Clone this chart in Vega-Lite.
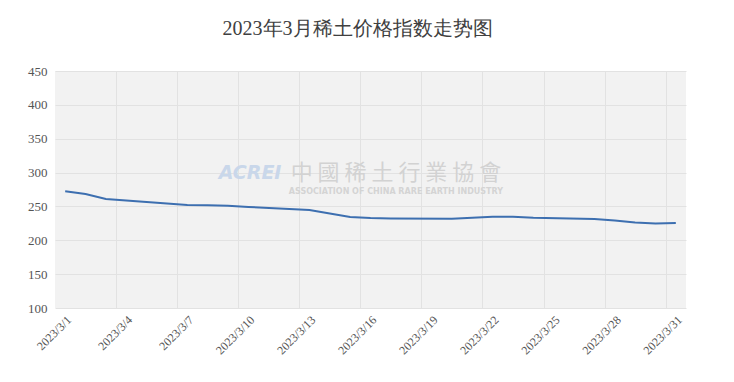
{
  "$schema": "https://vega.github.io/schema/vega-lite/v6.json",
  "autosize": "none",
  "width": 631,
  "height": 237,
  "padding": {"left": 55, "top": 71, "right": 48, "bottom": 74},
  "background": "white",
  "title": {
    "text": "2023年3月稀土价格指数走势图",
    "font": "Liberation Serif",
    "fontSize": 20,
    "fontWeight": "normal",
    "color": "#404040",
    "anchor": "middle",
    "offset": 26,
    "dx": -13
  },
  "config": {
    "view": {"fill": "#f2f2f2", "stroke": null},
    "axis": {"labelFont": "Liberation Serif", "labelColor": "#555555"}
  },
  "resolve": {"axis": {"x": "independent"}},
  "layer": [
    {
      "data": {"values": [{"date": "2023-03-17T06:00:00", "value": 299.4, "label": "中 國 稀 土 行 業 協 會"}]},
      "mark": {"type": "text", "font": "Noto Sans CJK TC", "fontSize": 22, "color": "#d2d2d2", "align": "center", "baseline": "middle"},
      "encoding": {
        "x": {
          "field": "date", "type": "temporal",
          "scale": {"domain": [{"year": 2023, "month": 2, "date": 28, "hours": 12}, {"year": 2023, "month": 3, "date": 31, "hours": 12}]},
          "axis": {
            "orient": "bottom", "title": null, "labels": false, "ticks": false, "domain": false,
            "grid": true, "gridColor": "#e2e2e2", "gridWidth": 1,
            "values": [
              {"year": 2023, "month": 3, "date": 3, "hours": 12},
              {"year": 2023, "month": 3, "date": 6, "hours": 12},
              {"year": 2023, "month": 3, "date": 9, "hours": 12},
              {"year": 2023, "month": 3, "date": 12, "hours": 12},
              {"year": 2023, "month": 3, "date": 15, "hours": 12},
              {"year": 2023, "month": 3, "date": 18, "hours": 12},
              {"year": 2023, "month": 3, "date": 21, "hours": 12},
              {"year": 2023, "month": 3, "date": 24, "hours": 12},
              {"year": 2023, "month": 3, "date": 27, "hours": 12},
              {"year": 2023, "month": 3, "date": 30, "hours": 12}
            ]
          }
        },
        "y": {
          "field": "value", "type": "quantitative",
          "scale": {"domain": [100, 450], "nice": false, "zero": false},
          "axis": {
            "title": null, "values": [100, 150, 200, 250, 300, 350, 400, 450],
            "grid": true, "gridColor": "#e2e2e2", "ticks": false, "domain": false,
            "labelFontSize": 13, "labelPadding": 8, "labelOverlap": false
          }
        },
        "text": {"field": "label"}
      }
    },
    {
      "data": {"values": [{"date": "2023-03-17T06:00:00", "value": 271.3, "label": "ASSOCIATION OF CHINA RARE EARTH INDUSTRY"}]},
      "mark": {"type": "text", "font": "DejaVu Sans", "fontSize": 8, "fontWeight": "bold", "color": "#d4d4d4", "align": "center", "baseline": "middle"},
      "encoding": {
        "x": {"field": "date", "type": "temporal", "axis": null},
        "y": {
          "field": "value", "type": "quantitative",
          "axis": {
            "title": null, "values": [100, 150, 200, 250, 300, 350, 400, 450],
            "grid": true, "gridColor": "#e2e2e2", "ticks": false, "domain": false,
            "labelFontSize": 13, "labelPadding": 8, "labelOverlap": false
          }
        },
        "text": {"field": "label"}
      }
    },
    {
      "data": {"values": [{"date": "2023-03-10T02:00:00", "value": 299.4, "label": "ACREI"}]},
      "mark": {"type": "text", "font": "DejaVu Sans", "fontSize": 19, "fontWeight": "bold", "fontStyle": "italic", "color": "#c9d7ea", "align": "center", "baseline": "middle"},
      "encoding": {
        "x": {"field": "date", "type": "temporal", "axis": null},
        "y": {
          "field": "value", "type": "quantitative",
          "axis": {
            "title": null, "values": [100, 150, 200, 250, 300, 350, 400, 450],
            "grid": true, "gridColor": "#e2e2e2", "ticks": false, "domain": false,
            "labelFontSize": 13, "labelPadding": 8, "labelOverlap": false
          }
        },
        "text": {"field": "label"}
      }
    },
    {
      "data": {"values": [
        {"date": "2023-03-01T00:00:00", "value": 272.4},
        {"date": "2023-03-02T00:00:00", "value": 268.4},
        {"date": "2023-03-03T00:00:00", "value": 261.0},
        {"date": "2023-03-06T00:00:00", "value": 254.4},
        {"date": "2023-03-07T00:00:00", "value": 252.1},
        {"date": "2023-03-08T00:00:00", "value": 251.7},
        {"date": "2023-03-09T00:00:00", "value": 251.1},
        {"date": "2023-03-10T00:00:00", "value": 249.2},
        {"date": "2023-03-13T00:00:00", "value": 244.7},
        {"date": "2023-03-14T00:00:00", "value": 239.6},
        {"date": "2023-03-15T00:00:00", "value": 234.4},
        {"date": "2023-03-16T00:00:00", "value": 232.9},
        {"date": "2023-03-17T00:00:00", "value": 232.2},
        {"date": "2023-03-20T00:00:00", "value": 231.9},
        {"date": "2023-03-21T00:00:00", "value": 233.4},
        {"date": "2023-03-22T00:00:00", "value": 234.9},
        {"date": "2023-03-23T00:00:00", "value": 234.9},
        {"date": "2023-03-24T00:00:00", "value": 233.4},
        {"date": "2023-03-27T00:00:00", "value": 231.4},
        {"date": "2023-03-28T00:00:00", "value": 229.2},
        {"date": "2023-03-29T00:00:00", "value": 226.3},
        {"date": "2023-03-30T00:00:00", "value": 224.8},
        {"date": "2023-03-31T00:00:00", "value": 225.5}
      ]},
      "mark": {"type": "line", "color": "#3d6fb0", "strokeWidth": 2},
      "encoding": {
        "x": {
          "field": "date", "type": "temporal",
          "axis": {
            "orient": "bottom", "title": null, "grid": false, "ticks": false, "domain": false,
            "format": "%Y/%-m/%-d", "labelAngle": -45, "labelAlign": "right", "labelBaseline": "top",
            "labelFontSize": 12, "labelPadding": 6, "labelOverlap": false,
            "values": [
              {"year": 2023, "month": 3, "date": 1},
              {"year": 2023, "month": 3, "date": 4},
              {"year": 2023, "month": 3, "date": 7},
              {"year": 2023, "month": 3, "date": 10},
              {"year": 2023, "month": 3, "date": 13},
              {"year": 2023, "month": 3, "date": 16},
              {"year": 2023, "month": 3, "date": 19},
              {"year": 2023, "month": 3, "date": 22},
              {"year": 2023, "month": 3, "date": 25},
              {"year": 2023, "month": 3, "date": 28},
              {"year": 2023, "month": 3, "date": 31}
            ]
          }
        },
        "y": {
          "field": "value", "type": "quantitative",
          "axis": {
            "title": null, "values": [100, 150, 200, 250, 300, 350, 400, 450],
            "grid": true, "gridColor": "#e2e2e2", "ticks": false, "domain": false,
            "labelFontSize": 13, "labelPadding": 8, "labelOverlap": false
          }
        }
      }
    }
  ]
}
